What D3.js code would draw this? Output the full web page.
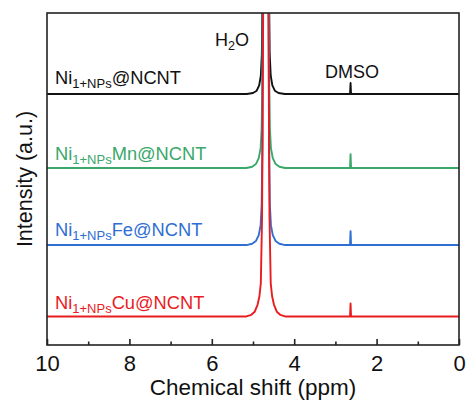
<!DOCTYPE html>
<html>
<head>
<meta charset="utf-8">
<script src="https://cdn.jsdelivr.net/npm/d3@7/dist/d3.min.js"></script>
<style>
  html, body { margin: 0; padding: 0; background: #fff; }
  svg { display: block; }
  text { font-family: Arial, "Liberation Sans", sans-serif; }
</style>
</head>
<body>
<svg id="chart" width="467" height="400"></svg>
<script>
// 1H NMR spectra of the four catalysts, stacked with vertical offsets.
const xTicks = [10, 8, 6, 4, 2, 0];
const xMinorTicks = [9, 7, 5, 3, 1];

const sampleNames = ["Ni1+NPs@NCNT", "Ni1+NPsMn@NCNT", "Ni1+NPsFe@NCNT", "Ni1+NPsCu@NCNT"];
const labelSuffix = ["@NCNT", "Mn@NCNT", "Fe@NCNT", "Cu@NCNT"];
const colors = ["#111111", "#3aa86b", "#2f6fd3", "#ea1c1f"];
// stacking offset of each spectrum (a.u.)
const offsets = [75.6, 53.3, 30.1, 8.6];

// [chemical shift (ppm), intensity above own baseline (a.u.)]
const spectrumNi = [
  [10, 0], [5.15, 0], [5.0, 0.3], [4.91, 1.0], [4.85, 2.6], [4.81, 5.5], [4.785, 12],
  [4.77, 30], [4.76, 80], [4.755, 400], [4.69, 600], [4.625, 400], [4.62, 80],
  [4.61, 30], [4.595, 12], [4.57, 5.5], [4.53, 2.6], [4.47, 1.0], [4.38, 0.3], [4.23, 0],
  [2.645, 0], [2.632, 3.3], [2.62, 0], [0, 0]
];
const spectrumMn = [
  [10, 0], [5.16, 0], [5.02, 0.4], [4.93, 1.2], [4.86, 3.0], [4.815, 6], [4.79, 12],
  [4.77, 30], [4.76, 80], [4.755, 400], [4.69, 600], [4.625, 400], [4.62, 80],
  [4.61, 30], [4.59, 12], [4.565, 6], [4.52, 3.0], [4.45, 1.2], [4.36, 0.4], [4.22, 0],
  [2.645, 0], [2.632, 4.2], [2.62, 0], [0, 0]
];
const spectrumFe = [
  [10, 0], [5.16, 0], [5.02, 0.4], [4.93, 1.2], [4.86, 3.0], [4.815, 6], [4.79, 12],
  [4.77, 30], [4.76, 80], [4.755, 400], [4.69, 600], [4.625, 400], [4.62, 80],
  [4.61, 30], [4.59, 12], [4.565, 6], [4.52, 3.0], [4.45, 1.2], [4.36, 0.4], [4.22, 0],
  [2.645, 0], [2.632, 4.2], [2.62, 0], [0, 0]
];
const spectrumCu = [
  [10, 0], [5.16, 0], [5.04, 0.5], [4.96, 1.4], [4.89, 3.5], [4.845, 6], [4.81, 10],
  [4.78, 30], [4.75, 100], [4.74, 400], [4.69, 600], [4.64, 400], [4.63, 100],
  [4.60, 30], [4.57, 10], [4.535, 6], [4.49, 3.5], [4.42, 1.4], [4.34, 0.5], [4.22, 0],
  [2.645, 0], [2.632, 3.9], [2.62, 0], [0, 0]
];
const spectra = [spectrumNi, spectrumMn, spectrumFe, spectrumCu];

const svg = d3.select("#chart");
const plot = { left: 47, right: 459, top: 13, bottom: 345 };

const x = d3.scaleLinear().domain([10, 0]).range([plot.left, plot.right]);
const y = d3.scaleLinear().domain([0, 100]).range([plot.bottom, plot.top]);

svg.append("defs").append("clipPath").attr("id", "plot-clip")
  .append("rect")
  .attr("x", plot.left).attr("y", plot.top)
  .attr("width", plot.right - plot.left).attr("height", plot.bottom - plot.top);

// spectra
const line = d3.line().x(d => x(d[0])).y(d => y(d[1]));
const traces = svg.append("g").attr("clip-path", "url(#plot-clip)");
spectra.forEach((s, i) => {
  traces.append("path")
    .datum(s.map(p => [p[0], p[1] + offsets[i]]))
    .attr("fill", "none")
    .attr("stroke", colors[i])
    .attr("stroke-width", 1.9)
    .attr("stroke-linejoin", "round")
    .attr("d", line);
});

// frame
svg.append("rect")
  .attr("x", plot.left).attr("y", plot.top)
  .attr("width", plot.right - plot.left).attr("height", plot.bottom - plot.top)
  .attr("fill", "none").attr("stroke", "#222").attr("stroke-width", 1.6);

// bottom axis, ticks pointing inward
const xAxis = d3.axisBottom(x).tickValues(xTicks).tickFormat(d3.format("d"))
  .tickSize(-6).tickPadding(10);
const gx = svg.append("g").attr("transform", `translate(0,${plot.bottom})`).call(xAxis);
gx.select(".domain").remove();
gx.selectAll(".tick line").attr("stroke", "#222").attr("stroke-width", 1.6);
gx.selectAll(".tick text")
  .attr("font-size", 22).attr("fill", "#111")
  .attr("font-family", "Arial, 'Liberation Sans', sans-serif");

const gxMinor = svg.append("g").attr("transform", `translate(0,${plot.bottom})`)
  .call(d3.axisBottom(x).tickValues(xMinorTicks).tickFormat("").tickSize(-3.5));
gxMinor.select(".domain").remove();
gxMinor.selectAll(".tick line").attr("stroke", "#222").attr("stroke-width", 1.6);

// axis titles
svg.append("text")
  .attr("x", 253).attr("y", 395)
  .attr("text-anchor", "middle").attr("font-size", 22.5).attr("fill", "#111")
  .text("Chemical shift (ppm)");

svg.append("text")
  .attr("transform", `translate(32,${(plot.top + plot.bottom) / 2}) rotate(-90)`)
  .attr("text-anchor", "middle").attr("font-size", 21.5).attr("fill", "#111")
  .text("Intensity (a.u.)");

// sample labels
const labelY = [83.5, 159.5, 235.5, 308.5];
sampleNames.forEach((name, i) => {
  const t = svg.append("text")
    .attr("x", 55).attr("y", labelY[i])
    .attr("font-size", 18.3).attr("fill", colors[i]);
  t.append("tspan").text("Ni");
  t.append("tspan").attr("dy", 4).attr("font-size", 13).text("1+NPs");
  t.append("tspan").attr("dy", -4).text(labelSuffix[i]);
});

// peak assignments
const h2o = svg.append("text").attr("x", 215).attr("y", 46)
  .attr("font-size", 18).attr("fill", "#111");
h2o.append("tspan").text("H");
h2o.append("tspan").attr("dy", 4).attr("font-size", 12.5).text("2");
h2o.append("tspan").attr("dy", -4).text("O");

svg.append("text").attr("x", 325).attr("y", 78)
  .attr("font-size", 18).attr("fill", "#111").text("DMSO");
</script>
</body>
</html>
